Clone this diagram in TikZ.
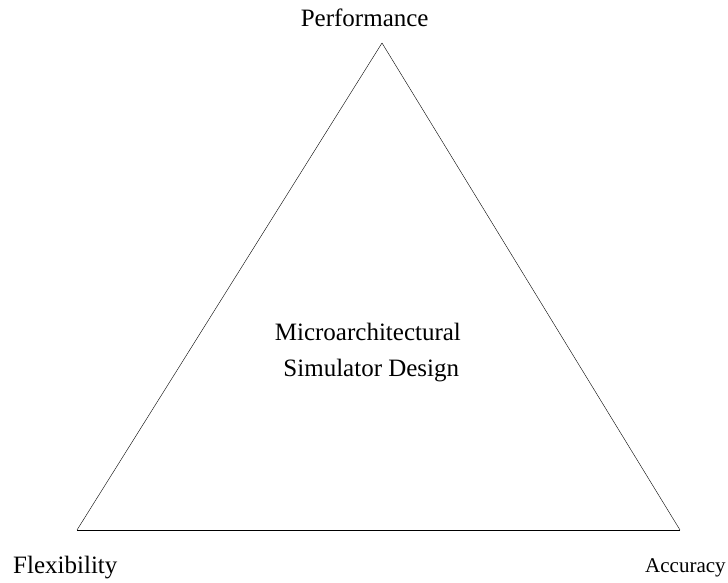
\documentclass[tikz,border=0pt]{standalone}
\usepackage{fontspec}
\setmainfont{Liberation Serif}
\begin{document}
\begin{tikzpicture}[x=1pt,y=1pt,
    label text/.style={inner sep=0pt, font=\fontsize{25}{30}\selectfont},
    small text/.style={inner sep=0pt, font=\fontsize{21}{25}\selectfont}]
      \useasboundingbox (0,0) rectangle (728,582);
      \draw
        (382,539) coordinate (top)
        (77,52) coordinate (left)
        (680,52) coordinate (right);
      \begin{scope}[-]
        \draw (top) to (left);
        \draw (left) to (right);
        \draw (right) to (top);
      \end{scope}
      \node[label text, anchor=base] (perf) at (364.7,555.3) {Performance};
      \node[label text, anchor=base west] (flex) at (13,9) {Flexibility};
      \node[small text, anchor=base west] (acc) at (645,10) {Accuracy};
      \node[label text, anchor=base] (micro) at (367.9,242) {Microarchitectural};
      \node[label text, anchor=base] (sim) at (371.3,206) {Simulator Design};
    \end{tikzpicture}
\end{document}
